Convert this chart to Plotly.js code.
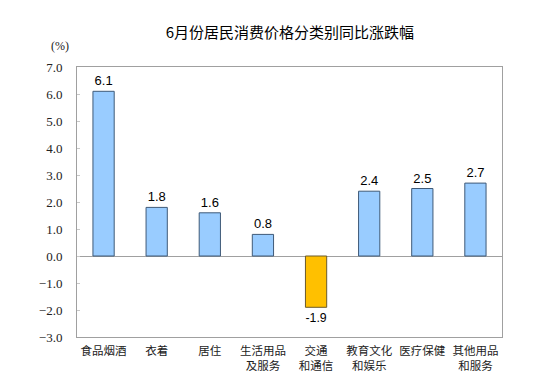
<!DOCTYPE html>
<html>
<head>
<meta charset="utf-8">
<script src="https://cdn.plot.ly/plotly-3.0.1.min.js"></script>
<style>html,body{margin:0;padding:0;background:#fff;}#chart{width:542px;height:382px;}</style>
</head>
<body>
<div id="chart"></div>
<script>
const categories = ["食品烟酒", "衣着", "居住", "生活用品<br>及服务", "交通<br>和通信", "教育文化<br>和娱乐", "医疗保健", "其他用品<br>和服务"];
const values = [6.1, 1.8, 1.6, 0.8, -1.9, 2.4, 2.5, 2.7];
const yTicks = [-3, -2, -1, 0, 1, 2, 3, 4, 5, 6, 7];

const fillColors = values.map(v => v < 0 ? "#FFC000" : "#99CCFF");
const lineColors = values.map(v => v < 0 ? "#6b5a2a" : "#3f5a78");

const trace = {
  type: "bar",
  x: categories,
  y: values,
  marker: {color: fillColors, line: {color: lineColors, width: 1}},
  text: values.map(v => v.toFixed(1)),
  textposition: "outside",
  cliponaxis: false,
  textfont: {family: "Liberation Sans, Arial, sans-serif", size: 13, color: "#000"},
  hoverinfo: "none"
};

const layout = {
  width: 542, height: 382,
  margin: {l: 77, r: 40, t: 67, b: 45},
  paper_bgcolor: "#fff", plot_bgcolor: "#fff",
  bargap: 0.6,
  showlegend: false,
  title: {
    text: "6月份居民消费价格分类别同比涨跌幅",
    font: {family: "Noto Sans CJK SC, sans-serif", size: 15, color: "#000"},
    x: 0.535, xanchor: "center", xref: "container",
    y: 1 - 33/382, yanchor: "middle", yref: "container"
  },
  xaxis: {
    showline: true, linecolor: "#a0a0a0", linewidth: 1, mirror: true,
    ticks: "", showgrid: false, ticklabelstandoff: 3,
    tickfont: {family: "Noto Sans CJK SC, sans-serif", size: 11.5, color: "#222"},
    tickangle: 0
  },
  yaxis: {
    range: [-3, 7], tickvals: yTicks, tickformat: ".1f",
    showline: true, linecolor: "#a0a0a0", linewidth: 1, mirror: true,
    ticks: "inside", ticklen: 3, tickcolor: "#c8c8c8",
    ticklabelstandoff: 11,
    showgrid: false,
    zeroline: true, zerolinecolor: "#a0a0a0", zerolinewidth: 1,
    tickfont: {family: "Liberation Serif, Times New Roman, serif", size: 13, color: "#222"}
  },
  annotations: [{
    text: "(%)", xref: "paper", yref: "paper",
    x: (59.5 - 77) / 425, y: (337 - 46.5) / 270, xanchor: "center", yanchor: "middle",
    showarrow: false,
    font: {family: "Liberation Serif, Times New Roman, serif", size: 12, color: "#222"}
  }]
};

Plotly.newPlot("chart", [trace], layout, {displayModeBar: false, staticPlot: true});
</script>
</body>
</html>
